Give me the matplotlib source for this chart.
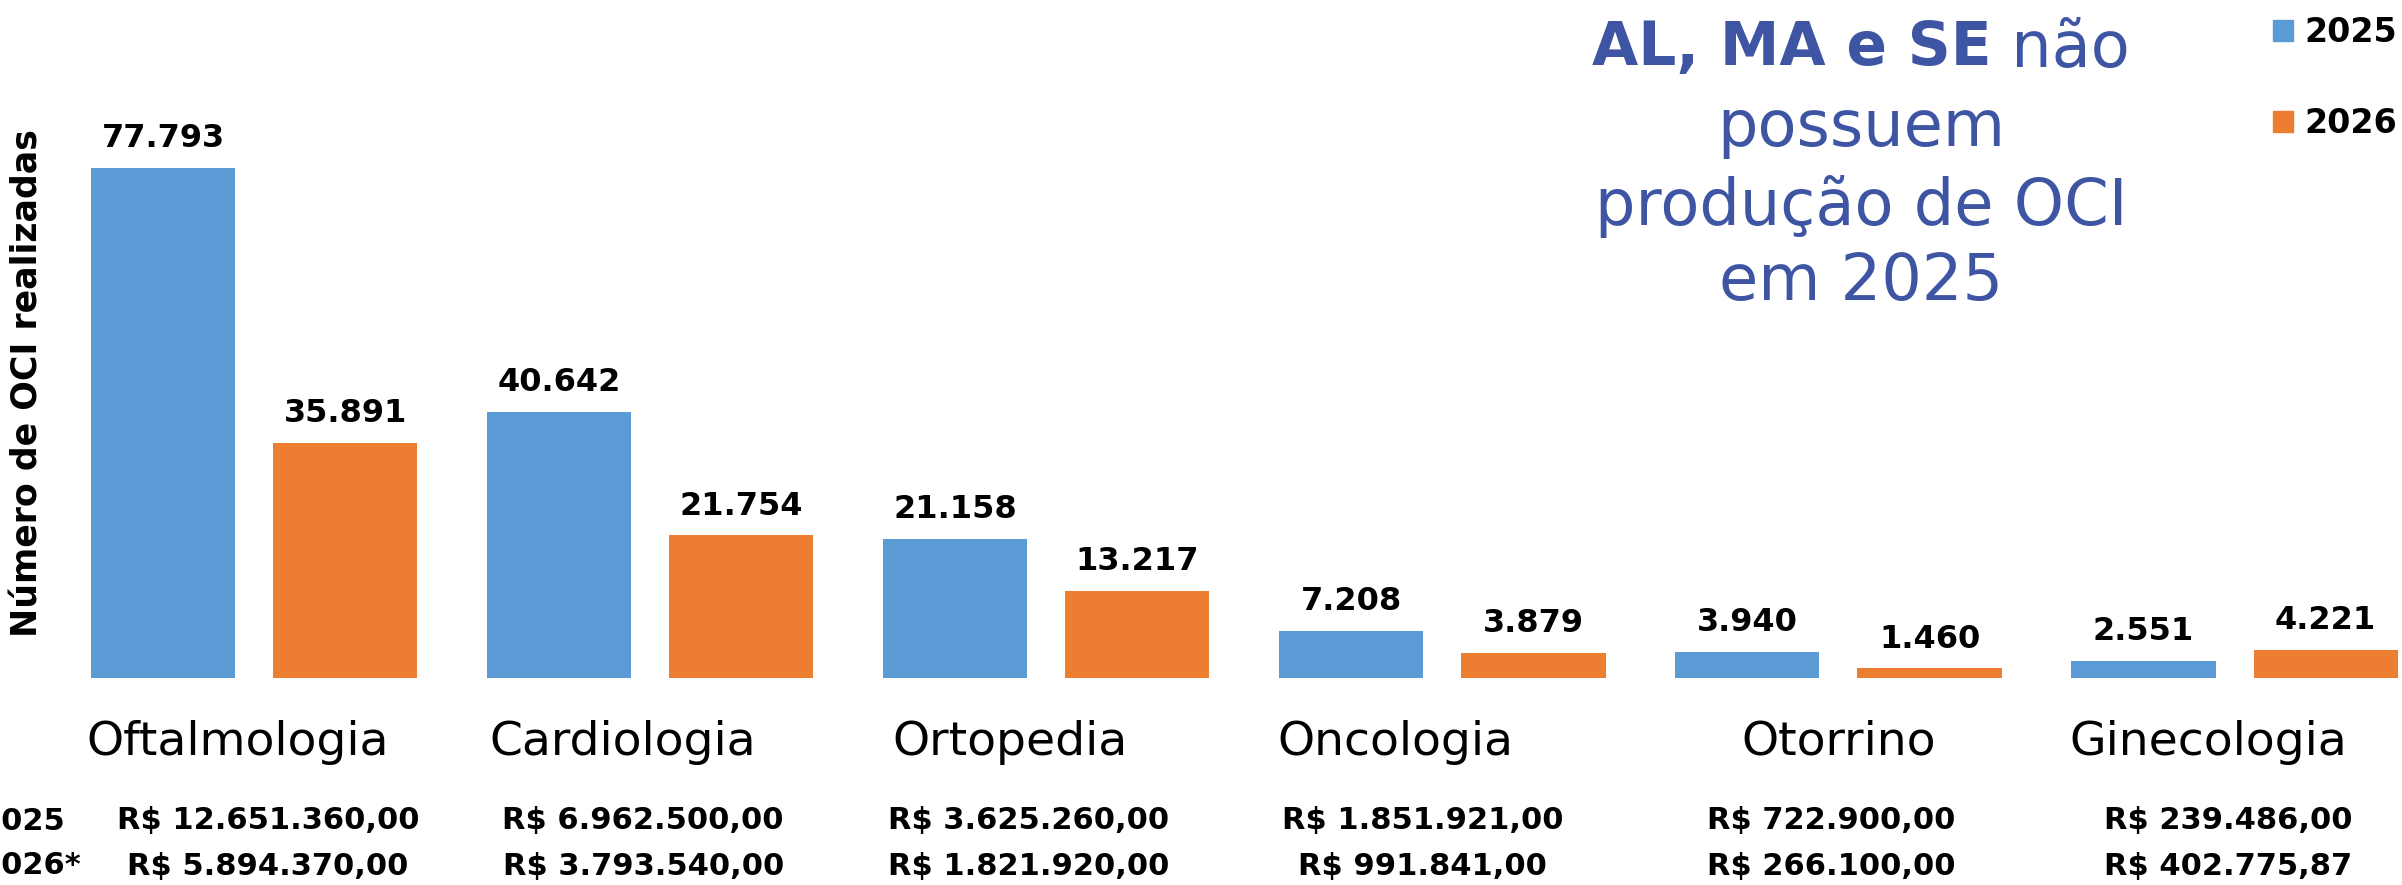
import numpy as np
import matplotlib
matplotlib.use("Agg")
import matplotlib.pyplot as plt
from matplotlib.patches import Patch
from matplotlib.transforms import ScaledTranslation

## Data
categories = ["Oftalmologia", "Cardiologia", "Ortopedia", "Oncologia", "Otorrino", "Ginecologia"]
oci_2025 = [77793, 40642, 21158, 7208, 3940, 2551]
oci_2026 = [35891, 21754, 13217, 3879, 1460, 4221]
valor_2025 = ["R$ 12.651.360,00", "R$ 6.962.500,00", "R$ 3.625.260,00",
              "R$ 1.851.921,00", "R$ 722.900,00", "R$ 239.486,00"]
valor_2026 = ["R$ 5.894.370,00", "R$ 3.793.540,00", "R$ 1.821.920,00",
              "R$ 991.841,00", "R$ 266.100,00", "R$ 402.775,87"]
row_labels = ["2025", "2026*"]
note_bold = "AL, MA e SE"
note_rest = [" não", "possuem", "produção de OCI", "em 2025"]

## Style
blue = "#5B9BD5"
orange = "#ED7D31"
note_color = "#3E55A3"
W, H = 2402, 885
dpi = 100

fig = plt.figure(figsize=(W / dpi, H / dpi), dpi=dpi)
# axes run past the right edge like the cropped slide
ax = fig.add_axes([56 / W, (H - 678) / H, 2376.6 / W, 590 / H])

x = np.arange(len(categories))
bar_w = 0.364
off = 0.23
b1 = ax.bar(x - off, oci_2025, bar_w, color=blue)
b2 = ax.bar(x + off, oci_2026, bar_w, color=orange)

fmt = lambda v: f"{v:,}".replace(",", ".")
for bars, vals in [(b1, oci_2025), (b2, oci_2026)]:
    ax.bar_label(bars, labels=[fmt(v) for v in vals], padding=10,
                 fontsize=23, fontweight="bold", color="black")

ax.set_xlim(-0.5, len(categories) - 0.5)
ax.set_ylim(0, 90000)
ax.set_yticks([])
ax.set_xticks(x)
ax.set_xticklabels(categories, fontsize=34)
ax.tick_params(axis="x", length=0, pad=30)
for s in ax.spines.values():
    s.set_visible(False)

# small horizontal nudges of the category labels (pixels)
label_dx = [-16, -27, -36, -47, 0, -26]
for lab, dx in zip(ax.get_xticklabels(), label_dx):
    lab.set_transform(lab.get_transform() + ScaledTranslation(dx / dpi, 0, fig.dpi_scale_trans))

# money rows under the categories
money_dx = [14, -7, -18, -20, -7, -6]
for row, (vals, yfig) in enumerate([(valor_2025, 1 - 821 / H), (valor_2026, 1 - 866 / H)]):
    for xi, txt, dx in zip(x, vals, money_dx):
        xpix = ax.transData.transform((xi, 0))[0] + dx
        fig.text(xpix / W, yfig, txt, ha="center", va="center",
                 fontsize=22, fontweight="bold")
    # the slide is cropped here, so the year labels are cut at the left edge
    fig.text(-19 / W, yfig, row_labels[row], ha="left", va="center",
             fontsize=22, fontweight="bold")

# y label
fig.text(28 / W, 1 - 383 / H, "Número de OCI realizadas", rotation=90,
         ha="center", va="center", fontsize=25, fontweight="bold")

# note box, first line mixes bold and regular
cx = 1861 / W
y1 = 1 - 49 / H
t1 = fig.text(cx, y1, note_bold, ha="left", va="center",
              fontsize=43, fontweight="bold", color=note_color)
t2 = fig.text(cx, y1, note_rest[0], ha="left", va="center",
              fontsize=46, color=note_color)
fig.canvas.draw()
r = fig.canvas.get_renderer()
w1 = t1.get_window_extent(r).width
w2 = t2.get_window_extent(r).width
x0 = 1861 - (w1 + w2) / 2
t1.set_x(x0 / W)
t2.set_x((x0 + w1) / W)
for line, ypx in zip(note_rest[1:], [128, 206, 282]):
    fig.text(cx, 1 - ypx / H, line, ha="center", va="center",
             fontsize=46, color=note_color)

# legend
handles = [Patch(color=blue, label="2025"), Patch(color=orange, label="2026")]
leg = fig.legend(handles=handles, loc="upper left", bbox_to_anchor=(2273 / W, 1 - 16 / H),
                 frameon=False, borderpad=0, borderaxespad=0,
                 handlelength=0.6, handleheight=0.6, handletextpad=0.35,
                 labelspacing=1.75, prop={"size": 24, "weight": "bold"})

fig.savefig("out.png", dpi=dpi)
